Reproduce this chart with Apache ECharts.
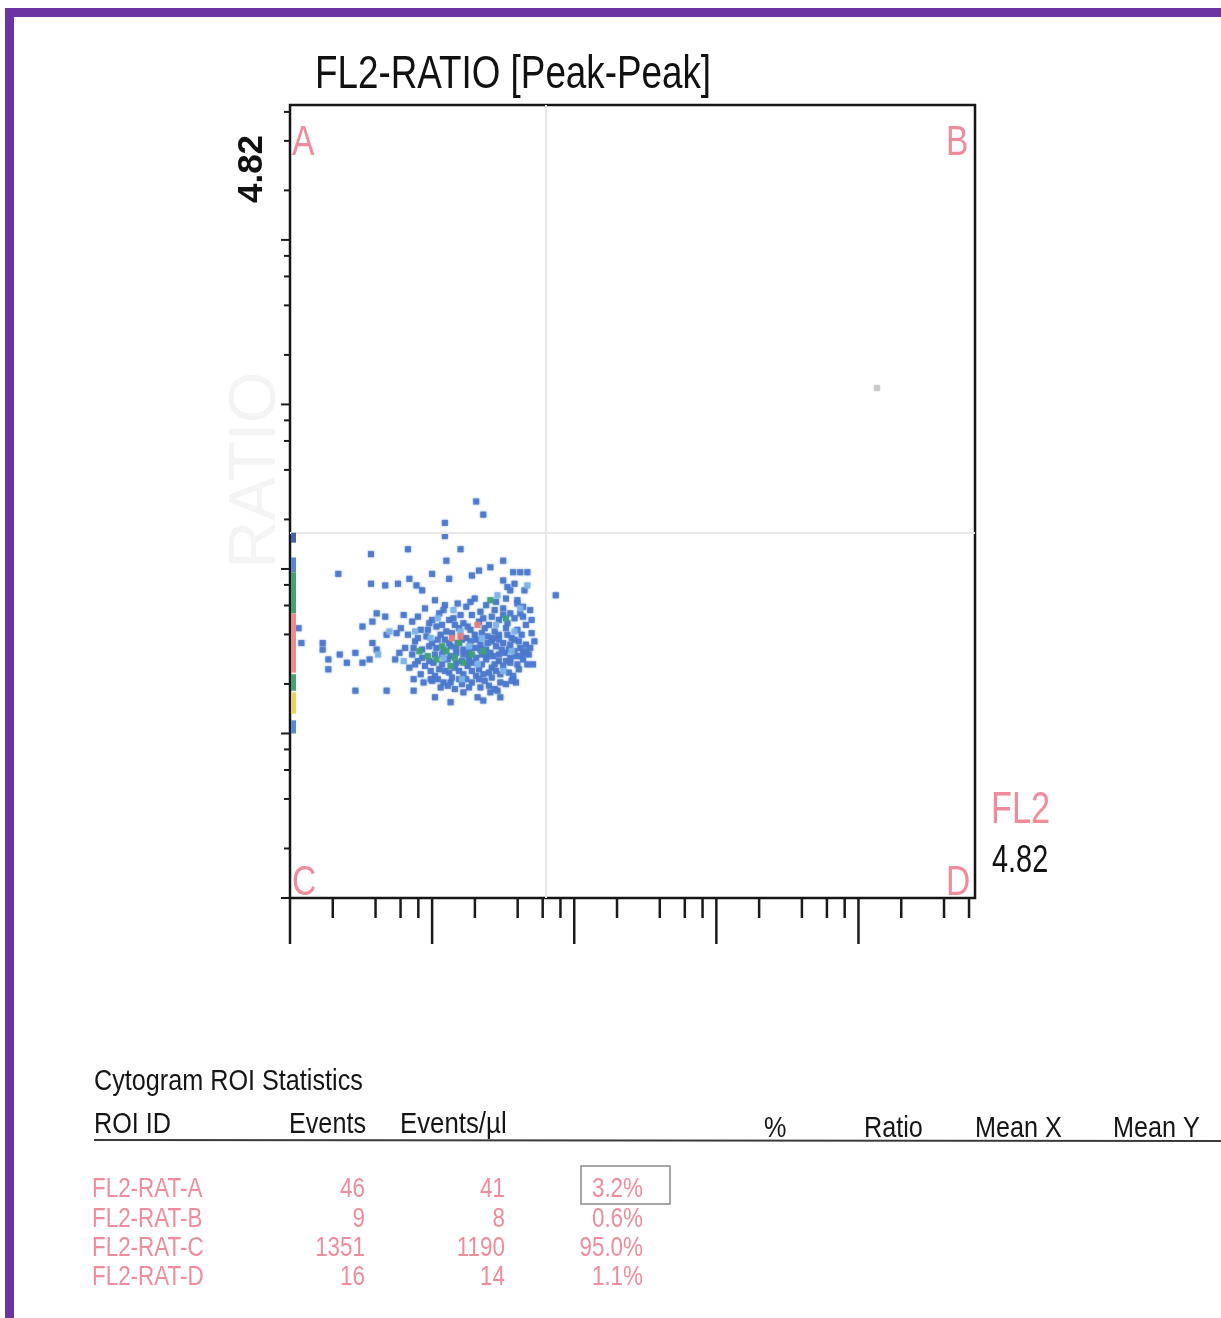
<!DOCTYPE html>
<html>
<head>
<meta charset="utf-8">
<script src="https://cdn.jsdelivr.net/npm/echarts@6/dist/echarts.min.js"></script>
<style>
  html, body { margin: 0; padding: 0; background: #ffffff; }
  #chart { width: 1221px; height: 1318px; }
</style>
</head>
<body>
<div id="chart"></div>
<script>
// Axis range in decades (log units), shared by both channels
const AXIS_MAX = 4.82;
// Quadrant gate positions (decades)
const gateX = 1.80;
const gateY = 2.22;

// Tick layout: decade starts and in-decade offsets (log10 of 2, 4, 6, 8)
const decadeTicks = [0, 1, 2, 3, 4];
const minorOffsets = [0.301, 0.602, 0.778, 0.903];

// Events, FL2 (x) vs RATIO (y), in decades — grouped by density level
const cellsLow = [
  [1.31,2.41],[1.36,2.33],[1.09,2.28],[1.09,2.20],
  [0.83,2.12],[0.57,2.09],[1.20,2.12],[1.10,2.05],
  [0.34,1.97],[0.57,1.91],[0.67,1.90],[0.76,1.91],[0.84,1.94],[0.89,1.90],[0.93,1.87],
  [1.00,1.97],[1.12,1.94],[1.28,1.96],[1.33,1.99],[1.41,2.01],[1.50,2.05],[1.57,1.98],[1.67,1.98],
  [1.87,1.84],[1.53,1.89],[1.58,1.91],
  [0.06,1.64],[0.08,1.55],[0.23,1.55],[0.23,1.51],[0.27,1.45],[0.27,1.39],[0.35,1.48],[0.40,1.43],
  [0.46,1.49],[0.46,1.26],[0.51,1.43],[0.56,1.45],[0.51,1.65],[0.58,1.68],[0.61,1.73],[0.67,1.71],
  [0.68,1.26],[0.58,1.55],[0.61,1.51],[0.68,1.60],[0.75,1.61],[0.77,1.49],[0.74,1.45],
  [0.87,1.33],[0.87,1.26],[0.94,1.31],[0.99,1.33],[1.02,1.22],[1.13,1.31],[1.13,1.19],[1.22,1.25],
  [1.32,1.22],[1.36,1.20],[1.41,1.25],[1.46,1.26],[1.48,1.22],[1.57,1.33],[1.59,1.31],[1.67,1.42],
  [1.71,1.42],[1.64,1.49],[1.64,1.71],[1.70,1.69],[1.64,1.77],[1.60,1.81],[1.65,1.87],[1.55,1.87],
  [1.50,1.93],[1.62,1.98],
  [1.02,1.81],[1.18,1.79],[1.30,1.82],[1.38,1.78],[1.45,1.80],[1.60,1.79],
  [0.95,1.76],[1.08,1.75],[1.24,1.77],[1.34,1.74],[1.50,1.76],[1.55,1.73],[1.69,1.75],
  [0.80,1.72],[0.90,1.71],[1.05,1.73],[1.15,1.70],[1.28,1.72],[1.42,1.71],[1.58,1.70],[1.62,1.73],
  [0.86,1.68],[0.98,1.67],[1.12,1.69],[1.22,1.67],[1.33,1.68],[1.40,1.66],[1.47,1.69],[1.53,1.67],[1.66,1.66],
  [0.78,1.64],[0.92,1.63],[1.03,1.65],[1.10,1.62],[1.19,1.64],[1.27,1.63],[1.37,1.64],[1.44,1.62],
  [1.52,1.64],[1.60,1.63],[1.70,1.61],
  [0.83,1.60],[0.96,1.59],[1.06,1.60],[1.14,1.61],[1.24,1.58],[1.30,1.60],[1.39,1.59],[1.47,1.60],
  [1.56,1.58],[1.63,1.60],
  [0.88,1.56],[1.00,1.55],[1.09,1.57],[1.18,1.55],[1.27,1.56],[1.34,1.54],[1.42,1.56],[1.50,1.55],
  [1.58,1.57],[1.66,1.54],[1.72,1.56],
  [0.81,1.52],[0.93,1.51],[1.03,1.52],[1.13,1.53],[1.22,1.51],[1.30,1.52],[1.38,1.51],[1.45,1.53],
  [1.54,1.51],[1.62,1.52],
  [0.86,1.48],[1.07,1.48],[1.17,1.49],[1.26,1.47],[1.35,1.48],[1.43,1.47],[1.51,1.49],[1.59,1.47],[1.68,1.48],
  [0.90,1.44],[1.01,1.43],[1.11,1.45],[1.21,1.44],[1.29,1.43],[1.38,1.45],[1.47,1.44],[1.55,1.43],[1.64,1.45],
  [0.84,1.40],[0.95,1.41],[1.05,1.39],[1.16,1.40],[1.25,1.41],[1.33,1.39],[1.42,1.40],[1.50,1.41],[1.61,1.39],
  [0.92,1.36],[1.02,1.35],[1.12,1.37],[1.22,1.36],[1.31,1.35],[1.40,1.37],[1.48,1.36],[1.57,1.35],
  [1.00,1.32],[1.08,1.31],[1.19,1.33],[1.28,1.31],[1.37,1.32],[1.52,1.30],
  [1.06,1.28],[1.16,1.27],[1.26,1.28],[1.44,1.27],
  [0.97,1.63],[1.07,1.66],[1.16,1.66],[1.25,1.65],[1.35,1.61],[1.43,1.58],[1.53,1.60],[1.61,1.56],
  [0.90,1.58],[1.04,1.57],[1.12,1.55],[1.21,1.57],[1.31,1.57],[1.39,1.55],[1.47,1.57],[1.55,1.54],[1.69,1.52],
  [0.87,1.52],[0.98,1.53],[1.08,1.51],[1.17,1.52],[1.26,1.50],[1.34,1.51],[1.41,1.49],[1.49,1.51],[1.58,1.50],[1.66,1.50],
  [0.93,1.46],[1.02,1.48],[1.13,1.47],[1.22,1.48],[1.31,1.46],[1.39,1.47],[1.47,1.48],[1.55,1.46],[1.63,1.47],
  [0.88,1.42],[0.98,1.44],[1.07,1.42],[1.17,1.43],[1.26,1.44],[1.35,1.42],[1.44,1.42],[1.52,1.44],[1.60,1.42],
  [0.99,1.38],[1.09,1.38],[1.19,1.38],[1.28,1.38],[1.36,1.36],[1.45,1.38],[1.54,1.37],
  [1.04,1.33],[1.14,1.34],[1.24,1.33],[1.33,1.33],[1.42,1.34],[1.48,1.31],[1.56,1.32],
  [1.11,1.29],[1.21,1.30],[1.34,1.28],[1.40,1.29],
  [1.00,1.69],[1.20,1.72],[1.36,1.70],[1.50,1.72],[1.09,1.78],[1.27,1.80],[1.52,1.82],[1.44,1.75]
];
const cellsMid = [
  [1.04,1.70],[1.20,1.62],[1.35,1.58],[1.08,1.46],[1.26,1.53],[1.45,1.66],[1.56,1.50],[0.99,1.58],
  [1.32,1.42],[1.62,1.76],[0.70,1.62],[1.50,1.38],[1.15,1.75],[0.62,1.48],[0.88,1.62],[1.67,1.90],
  [1.21,1.33],[0.80,1.44],[1.46,1.84],[1.58,1.62]
];
const cellsHigh = [
  [0.97,1.47],[1.03,1.45],[1.10,1.50],[1.16,1.46],[1.22,1.43],[1.28,1.48],[1.13,1.41],[1.36,1.50],
  [1.41,1.81],[1.52,1.70],[1.07,1.53],[1.19,1.55],[0.91,1.50]
];
const cellsPeak = [[1.14,1.58],[1.20,1.59],[1.32,1.66]];
const cellsStray = [[4.13,3.10]];

// RATIO projection along the y axis: [from, to, density level]
const ratioStrip = [
  [2.16,2.22,0],[1.98,2.07,1],[1.73,1.98,2],[1.37,1.73,3],[1.26,1.36,2],[1.12,1.25,4],[1.00,1.08,1]
];

// ROI statistics table
const roiIds = ['FL2-RAT-A', 'FL2-RAT-B', 'FL2-RAT-C', 'FL2-RAT-D'];
const roiEvents = [46, 9, 1351, 16];
const roiEventsPerUl = [41, 8, 1190, 14];
const roiPercent = [3.2, 0.6, 95.0, 1.1];
const quadrantNames = ['A', 'B', 'C', 'D'];
const tableHeaders = ['ROI ID', 'Events', 'Events/\u00b5l', '%', 'Ratio', 'Mean X', 'Mean Y'];

// Arial metrics, horizontally condensed
const FONT = "'Liberation Sans', Arial, sans-serif";
const PINK = '#ef8c9c';
const INK = '#151515';
const stripPalette = ['#4a5fb0', '#5a88d4', '#47a071', '#ec8b8b', '#e9d25e'];

function txt(x, y, text, size, fill, opts) {
  opts = opts || {};
  return {
    type: 'text', x: x, y: y, scaleX: opts.sx || 0.82, rotation: opts.rot || 0,
    style: {
      text: text, font: (opts.bold ? 'bold ' : '') + size + 'px ' + FONT, fill: fill,
      align: opts.align || 'left', verticalAlign: opts.va || 'middle'
    },
    z: 20
  };
}

// tick positions built from the decade + offset tables
function tickList() {
  const out = [];
  decadeTicks.forEach(d => {
    out.push([d, 1]);
    minorOffsets.forEach(o => { if (d + o <= AXIS_MAX) out.push([d + o, 0]); });
  });
  return out;
}
const ticks = tickList();

const chart = echarts.init(document.getElementById('chart'), null, { renderer: 'canvas' });

function scatter(data, color) {
  return {
    type: 'scatter', data: data, symbol: 'rect', symbolSize: 6,
    itemStyle: { color: color, opacity: 0.85, shadowBlur: 2, shadowColor: color },
    silent: true, z: 3
  };
}

const graphics = [
  // page frame
  { type: 'rect', shape: { x: 5, y: 8, width: 1216, height: 9 }, style: { fill: '#6c33a3' }, z: 10 },
  { type: 'rect', shape: { x: 5, y: 8, width: 9, height: 1310 }, style: { fill: '#6c33a3' }, z: 10 },
  // title
  txt(315, 75, 'FL2-RATIO [Peak-Peak]', 46, '#111', { sx: 0.8 }),
  // ghost axis name
  txt(257, 470, 'RATIO', 66, '#f4f4f4', { rot: Math.PI / 2, align: 'center', sx: 1 }),
  // axis maxima
  txt(252, 169, AXIS_MAX.toFixed(2), 35, '#111', { rot: Math.PI / 2, align: 'center', bold: true, sx: 1 }),
  txt(991, 811, 'FL2', 44, PINK, { sx: 0.78 }),
  txt(992, 862, AXIS_MAX.toFixed(2), 38, '#111', { sx: 0.76 }),
  // quadrant letters
  txt(292, 143, quadrantNames[0], 42, PINK, { sx: 0.8 }),
  txt(946, 143, quadrantNames[1], 42, PINK, { sx: 0.8 }),
  txt(292, 883, quadrantNames[2], 42, PINK, { sx: 0.8 }),
  txt(946, 883, quadrantNames[3], 42, PINK, { sx: 0.8 }),
  // statistics table
  txt(94, 1082, 'Cytogram ROI Statistics', 30, INK, { sx: 0.84 }),
  txt(94, 1125, tableHeaders[0], 30, INK, { sx: 0.84 }),
  txt(366, 1125, tableHeaders[1], 30, INK, { align: 'right', sx: 0.84 }),
  txt(400, 1125, tableHeaders[2], 30, INK, { sx: 0.86 }),
  txt(764, 1129, tableHeaders[3], 30, INK, { sx: 0.84 }),
  txt(864, 1129, tableHeaders[4], 30, INK, { sx: 0.84 }),
  txt(975, 1129, tableHeaders[5], 30, INK, { sx: 0.84 }),
  txt(1113, 1129, tableHeaders[6], 30, INK, { sx: 0.84 }),
  { type: 'line', shape: { x1: 94, y1: 1140, x2: 1221, y2: 1141 }, style: { stroke: '#3a3a3a', lineWidth: 2 } },
  { type: 'rect', shape: { x: 581, y: 1166, width: 89, height: 38 }, style: { fill: 'none', stroke: '#8a8a8a', lineWidth: 1.5 } }
];

roiIds.forEach((id, i) => {
  const y = 1190 + i * 29.3;
  graphics.push(txt(92, y, id, 27, PINK, { sx: 0.83 }));
  graphics.push(txt(365, y, String(roiEvents[i]), 27, PINK, { sx: 0.83, align: 'right' }));
  graphics.push(txt(505, y, String(roiEventsPerUl[i]), 27, PINK, { sx: 0.83, align: 'right' }));
  graphics.push(txt(643, y, roiPercent[i].toFixed(1) + '%', 27, PINK, { sx: 0.83, align: 'right' }));
});

const option = {
  backgroundColor: '#ffffff',
  animation: false,
  grid: { left: 290, top: 105, width: 685, height: 793, show: true, borderColor: '#151515', borderWidth: 2.5, backgroundColor: 'transparent' },
  xAxis: {
    type: 'value', min: 0, max: AXIS_MAX,
    axisLine: { show: false }, axisTick: { show: false }, axisLabel: { show: false }, splitLine: { show: false }
  },
  yAxis: {
    type: 'value', min: 0, max: AXIS_MAX,
    axisLine: { show: false }, axisTick: { show: false }, axisLabel: { show: false }, splitLine: { show: false }
  },
  graphic: graphics,
  series: [
    // quadrant gates
    {
      type: 'scatter', data: [], silent: true,
      markLine: {
        silent: true, symbol: 'none', label: { show: false },
        lineStyle: { color: '#e8e8e8', width: 2, type: 'solid' },
        data: [{ xAxis: gateX }, { yAxis: gateY }]
      }
    },
    scatter(cellsLow, '#4a78cc'),
    scatter(cellsMid, '#7bb4e6'),
    scatter(cellsHigh, '#3f9f7a'),
    scatter(cellsPeak, '#e27b7b'),
    scatter(cellsStray, '#c8c8c8'),
    // x axis ticks (below frame)
    {
      type: 'custom', clip: false, silent: true, data: ticks, z: 4,
      renderItem: function (params, api) {
        const p = api.coord([api.value(0), 0]);
        const len = api.value(1) ? 46 : 20;
        return { type: 'line', shape: { x1: p[0], y1: p[1], x2: p[0], y2: p[1] + len }, style: { stroke: '#1a1a1a', lineWidth: 2.5 } };
      }
    },
    // y axis ticks (left of frame)
    {
      type: 'custom', clip: false, silent: true, data: ticks.map(t => [0, t[0], t[1]]), z: 4,
      renderItem: function (params, api) {
        const p = api.coord([0, api.value(1)]);
        const len = api.value(2) ? 9 : 6;
        return { type: 'line', shape: { x1: p[0] - len, y1: p[1], x2: p[0], y2: p[1] }, style: { stroke: '#1a1a1a', lineWidth: 2 } };
      }
    },
    // RATIO projection strip along the y axis
    {
      type: 'custom', clip: false, silent: true, data: ratioStrip, z: 5,
      renderItem: function (params, api) {
        const top = api.coord([0, api.value(1)]);
        const bot = api.coord([0, api.value(0)]);
        return { type: 'rect', shape: { x: top[0] + 1, y: top[1], width: 5, height: bot[1] - top[1] },
          style: { fill: stripPalette[api.value(2)] } };
      }
    }
  ]
};

chart.setOption(option);
</script>
</body>
</html>
